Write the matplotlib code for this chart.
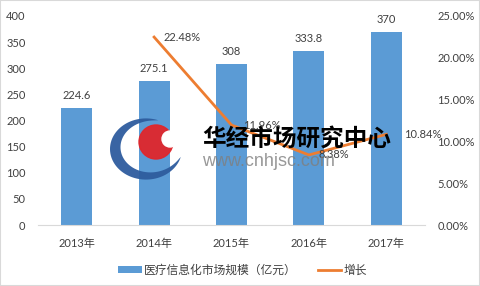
import matplotlib
matplotlib.use("Agg")
import matplotlib.pyplot as plt
import numpy as np
from matplotlib.patches import Circle, Rectangle, Polygon
from matplotlib.ticker import FuncFormatter

plt.rcParams['font.family'] = ['Lato', 'Noto Sans CJK SC', 'DejaVu Sans']

years = ["2013年", "2014年", "2015年", "2016年", "2017年"]
market_size = [224.6, 275.1, 308, 333.8, 370]
growth = [None, 0.2248, 0.1196, 0.0838, 0.1084]
growth_labels = ["", "22.48%", "11.96%", "8.38%", "10.84%"]
bar_name = "医疗信息化市场规模（亿元）"
line_name = "增长"

BLUE = "#5B9BD5"
ORANGE = "#ED7D31"
TXT = "#404040"

W, H = 480, 286
fig = plt.figure(figsize=(W / 100, H / 100), dpi=100)
ax = fig.add_axes([38 / W, 1 - 225 / H, (425 - 38) / W, (225 - 16) / H])
ax2 = ax.twinx()

x = list(range(len(years)))
bars = ax.bar(x, market_size, width=0.4, color=BLUE, label=bar_name, zorder=2)
ax.set_xlim(-0.5, len(years) - 0.5)
ax.set_ylim(0, 400)
ax.set_yticks(range(0, 401, 50))
ax.set_xticks(x)
ax.set_xticklabels(years)
for s in ["top", "left", "right"]:
    ax.spines[s].set_visible(False)
ax.spines["bottom"].set_color("#D9D9D9")
ax.tick_params(axis="both", length=0, labelsize=8, colors=TXT)
ax.tick_params(axis="y", pad=9)
ax.tick_params(axis="x", pad=9)

for xi, v in zip(x, market_size):
    ax.annotate(f"{v:g}", (xi, v), xytext=(0, 5), textcoords="offset points",
                ha="center", va="bottom", fontsize=8, color=TXT)

gx = [xi for xi, g in zip(x, growth) if g is not None]
gy = [g for g in growth if g is not None]
ln, = ax2.plot(gx, gy, color=ORANGE, lw=2, label=line_name, zorder=3)
ax2.set_ylim(0, 0.25)
ax2.set_yticks([0, 0.05, 0.10, 0.15, 0.20, 0.25])
ax2.yaxis.set_major_formatter(FuncFormatter(lambda v, p: f"{v * 100:.2f}%"))
for s in ["top", "left", "right", "bottom"]:
    ax2.spines[s].set_visible(False)
ax2.tick_params(axis="y", length=0, labelsize=8, colors=TXT, pad=9)

offs = [0, 7, 8, 7, 13]
for xi, g, lab, o in zip(x, growth, growth_labels, offs):
    if g is None:
        continue
    ax2.annotate(lab, (xi, g), xytext=(o, 0), textcoords="offset points",
                 ha="left", va="center", fontsize=8, color=TXT)

leg = fig.legend([bars, ln], [bar_name, line_name], loc="center",
                 bbox_to_anchor=(0.505, 1 - 270 / H), ncol=2, frameon=False,
                 fontsize=8.5, handlelength=2.0, handleheight=0.5,
                 columnspacing=1.8, handletextpad=0.15)
for t in leg.get_texts():
    t.set_color(TXT)

# watermark overlay
ov = fig.add_axes([0, 0, 1, 1], zorder=10)
ov.set_xlim(0, W)
ov.set_ylim(0, H)
ov.axis("off")
ov.patch.set_alpha(0)
# tapered blue crescent
t = np.linspace(np.radians(70), np.radians(345), 80)
R = 36
wmax = 11
w = wmax * np.sin(np.pi * (t - t[0]) / (t[-1] - t[0])) ** 0.8
cx, cy = 146, H - 149
outer = np.column_stack([cx + R * np.cos(t), cy + 0.85 * R * np.sin(t)])
inner = np.column_stack([cx + (R - w) * np.cos(t), cy + 0.85 * (R - w) * np.sin(t)])[::-1]
ov.add_patch(Polygon(np.vstack([outer, inner]), closed=True, color="#2E5C9E", alpha=0.95, lw=0))
ov.add_patch(Circle((156, H - 142), 17, color="#E0262B", alpha=0.95))
ov.add_patch(Circle((170, H - 139), 8, color="white"))
ov.text(202, H - 139, "华经市场研究中心", fontsize=17, fontweight="bold",
        family=["Noto Sans CJK SC"], color="black", va="center", ha="left")
ov.text(202, H - 162, "www.cnhjsc.com", fontsize=13, color="#7F7F7F",
        family=["Liberation Sans"], va="center", ha="left", alpha=0.8)

fig.add_artist(Rectangle((0, 0), 1, 1, transform=fig.transFigure, fill=False,
                         edgecolor="#D9D9D9", lw=1.5))

fig.savefig("out.png", dpi=100)
